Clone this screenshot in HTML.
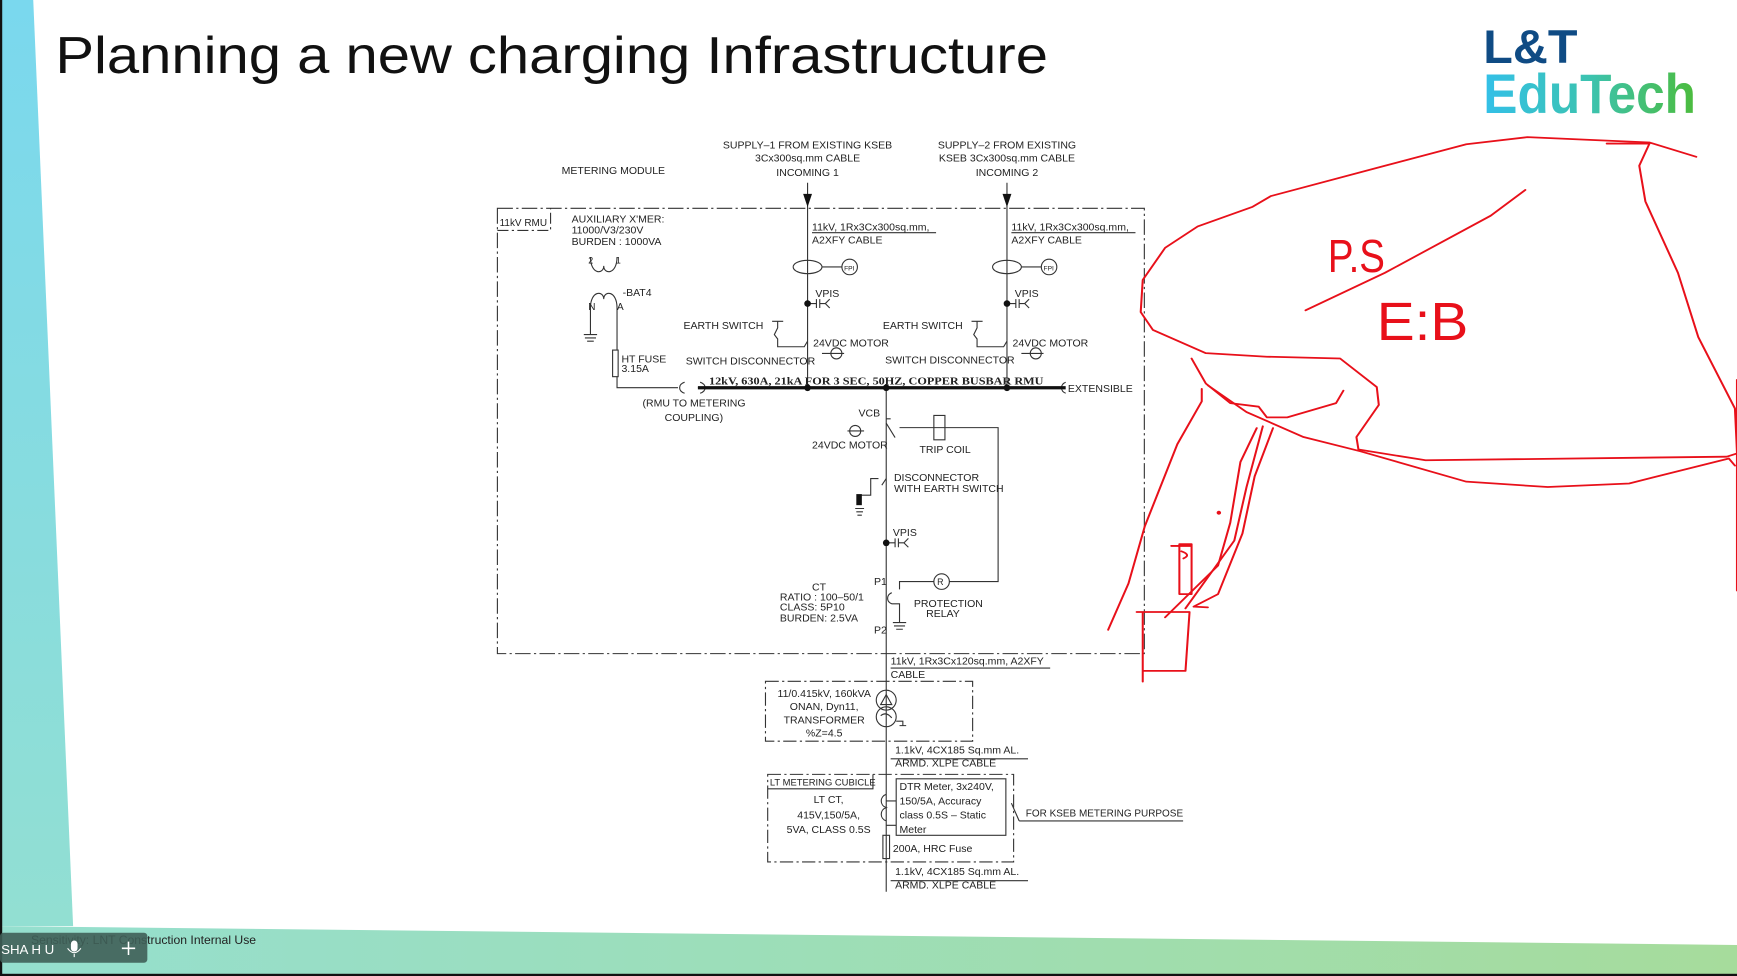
<!DOCTYPE html>
<html><head><meta charset="utf-8"><style>
html,body{margin:0;padding:0;background:#fff;width:1737px;height:976px;overflow:hidden}
svg{display:block}
.d{font-family:"Liberation Sans",sans-serif;font-size:9.5px;fill:#222}
</style></head><body>
<svg width="1737" height="976" viewBox="0 0 1568 881" preserveAspectRatio="none" xmlns="http://www.w3.org/2000/svg">
<defs>
<linearGradient id="lg" x1="0" y1="0" x2="0" y2="1"><stop offset="0" stop-color="#7ad8ee"/><stop offset="1" stop-color="#92dfd2"/></linearGradient>
<linearGradient id="bg" x1="0" y1="0" x2="1" y2="0"><stop offset="0" stop-color="#95dfcf"/><stop offset="1" stop-color="#a6dc9c"/></linearGradient>
<linearGradient id="eg" x1="0" y1="0" x2="1" y2="0"><stop offset="0" stop-color="#33c0e8"/><stop offset="0.5" stop-color="#3cc3b0"/><stop offset="1" stop-color="#4cbc3c"/></linearGradient>
</defs>
<rect width="1568" height="881" fill="#fff"/>
<polygon points="0,0 30,0 66,836 0,836" fill="url(#lg)"/>
<polygon points="0,836 1568,853 1568,881 0,881" fill="url(#bg)"/>
<rect x="0" y="0" width="2" height="881" fill="#111"/>
<rect x="0" y="879" width="1568" height="2" fill="#111"/>

<text x="50" y="66" font-family="Liberation Sans, sans-serif" font-size="47" fill="#111" textLength="896" lengthAdjust="spacingAndGlyphs">Planning a new charging Infrastructure</text>
<text x="1339" y="57" font-family="Liberation Sans, sans-serif" font-weight="bold" font-size="43" fill="#0f4b84" textLength="85" lengthAdjust="spacingAndGlyphs">L&amp;T</text>
<text x="1339" y="102" font-family="Liberation Sans, sans-serif" font-weight="bold" font-size="50" fill="url(#eg)" textLength="192" lengthAdjust="spacingAndGlyphs">EduTech</text>

<g stroke="#333" fill="none" stroke-width="1">
<rect x="449" y="188" width="584" height="402" stroke-dasharray="14,3,2,3"/>
<path d="M449,208 H497 V188" stroke-dasharray="10,3,2,3"/>
<path d="M729,165 V350 M909,165 V350" />
<path d="M800,350 V805"/>
<path d="M733,210 H845 M913,210 H1025"/>
<ellipse cx="729" cy="241" rx="13" ry="6"/><ellipse cx="909" cy="241" rx="13" ry="6"/>
<path d="M742,241 H760 M922,241 H940"/>
<circle cx="767" cy="241" r="7"/><circle cx="947" cy="241" r="7"/>
<path d="M729,274 H737 M737,270 V278 M740,270 V278 M740,274 H745 M749,270 L745,274 L749,278"/>
<path d="M909,274 H917 M917,270 V278 M920,270 V278 M920,274 H925 M929,270 L925,274 L929,278"/>
<path d="M800,490 H808 M808,486 V494 M811,486 V494 M811,490 H816 M820,486 L816,490 L820,494"/>
<path d="M697,290 H707 M702,290 V296 L699,302 L702,306 V313 H726 L729,308"/>
<path d="M877,290 H887 M882,290 V296 L879,302 L882,306 V313 H906 L909,308"/>
<path d="M742,319 H762 M922,319 H942"/>
<circle cx="755" cy="319" r="5"/><circle cx="935" cy="319" r="5"/>
<path d="M765,389 H780"/><circle cx="772" cy="389" r="5"/>
<path d="M800,378 H804 M800,382 L808,395"/>
<path d="M812,386 H901 V525 H857 M843,525 H812 V532"/>
<rect x="843" y="375" width="10" height="22"/>
<circle cx="850" cy="525" r="7"/>
<path d="M800,432 L796,438 M793,432 H786 V447 H776 V455 M772,459 H780 M773,462 H779 M774,465 H778"/>
<path d="M805,535 C800,537 800,543 805,545 H812 V562 M806,562 H818 M807,565 H817 M809,568 H815"/>
<path d="M557,278 V316 M557,340 V350 H612 M637,350 H630"/>
<path d="M533,278 V302 M527,302 H539 M528,305 H538 M530,308 H536"/>
<path d="M533,278 C533,262 545,262 545,270 C545,262 557,262 557,278"/>
<path d="M533,232 C533,248 545,248 545,240 C545,248 557,248 557,232"/>
<rect x="553" y="316" width="5" height="24"/>
<path d="M618,345 C612,347 612,353 618,355 M632,345 C638,347 638,353 632,355"/>
<path d="M962,345 C957,347 957,353 962,355"/>
<rect x="691" y="615" width="187" height="54" stroke-dasharray="12,3,2,3"/>
<circle cx="800" cy="632" r="9"/><circle cx="800" cy="647" r="9"/>
<path d="M795,636 L800,627 L805,636 Z M795,646 Q800,642 805,648 M809,651 H815 V655 M812,655 H818"/>
<path d="M804,685 H928 M804,795 H928 M804,603 H948 M920,741 H1068 M913,725 L920,741"/>
<rect x="693" y="699" width="222" height="79" stroke-dasharray="12,3,2,3"/>
<path d="M693,712 H788 V699"/>
<rect x="809" y="703" width="99" height="51"/>
<path d="M800,717 C794,719 794,727 800,729 C794,731 794,739 800,741 M800,723 H809 M800,745 H809"/>
<rect x="797" y="754" width="6" height="21"/>
</g>
<path d="M630,350 H962" stroke="#111" stroke-width="3"/>
<g fill="#111">
<polygon points="725,175 733,175 729,187"/><polygon points="905,175 913,175 909,187"/>
<circle cx="729" cy="274" r="3"/><circle cx="909" cy="274" r="3"/><circle cx="800" cy="490" r="3"/>
<circle cx="729" cy="350" r="3"/><circle cx="800" cy="350" r="3"/><circle cx="909" cy="350" r="3"/>
<rect x="773" y="446" width="5" height="10"/>
</g>
<g class="d">
<text x="507" y="157">METERING MODULE</text>
<g text-anchor="middle"><text x="729" y="134">SUPPLY–1 FROM EXISTING KSEB</text><text x="729" y="146">3Cx300sq.mm CABLE</text><text x="729" y="159">INCOMING 1</text>
<text x="909" y="134">SUPPLY–2 FROM EXISTING</text><text x="909" y="146">KSEB 3Cx300sq.mm CABLE</text><text x="909" y="159">INCOMING 2</text></g>
<text x="451" y="204" font-size="9">11kV RMU</text>
<text x="516" y="201">AUXILIARY X'MER:</text><text x="516" y="211">11000/V3/230V</text><text x="516" y="221">BURDEN : 1000VA</text>
<text x="531" y="238" font-size="8">2</text><text x="556" y="238" font-size="8">1</text>
<text x="562" y="267">-BAT4</text><text x="531" y="280" font-size="9">N</text><text x="557" y="280" font-size="9">A</text>
<text x="561" y="327">HT FUSE</text><text x="561" y="336">3.15A</text>
<text x="733" y="208">11kV, 1Rx3Cx300sq.mm,</text><text x="733" y="220">A2XFY CABLE</text>
<text x="913" y="208">11kV, 1Rx3Cx300sq.mm,</text><text x="913" y="220">A2XFY CABLE</text>
<text x="762" y="244" font-size="6">FPI</text><text x="942" y="244" font-size="6">FPI</text>
<text x="736" y="268">VPIS</text><text x="916" y="268">VPIS</text>
<text x="617" y="297">EARTH SWITCH</text><text x="797" y="297">EARTH SWITCH</text>
<text x="734" y="313">24VDC MOTOR</text><text x="914" y="313">24VDC MOTOR</text>
<text x="619" y="329">SWITCH DISCONNECTOR</text><text x="799" y="328">SWITCH DISCONNECTOR</text>
<text x="640" y="347" font-family="Liberation Serif, serif" font-weight="bold" textLength="302" lengthAdjust="spacingAndGlyphs">12kV, 630A, 21kA FOR  3 SEC, 50HZ, COPPER BUSBAR RMU</text>
<text x="964" y="354">EXTENSIBLE</text>
<text x="580" y="367">(RMU TO METERING</text><text x="600" y="380">COUPLING)</text>
<text x="775" y="376">VCB</text><text x="733" y="405">24VDC MOTOR</text><text x="830" y="409">TRIP COIL</text>
<text x="807" y="434">DISCONNECTOR</text><text x="807" y="444">WITH EARTH SWITCH</text>
<text x="806" y="484">VPIS</text>
<text x="789" y="528">P1</text><text x="789" y="572">P2</text>
<text x="846" y="528" font-size="8">R</text>
<text x="825" y="548">PROTECTION</text><text x="836" y="557">RELAY</text>
<text x="733" y="533">CT</text><text x="704" y="542">RATIO : 100–50/1</text><text x="704" y="551">CLASS: 5P10</text><text x="704" y="561">BURDEN: 2.5VA</text>
<text x="804" y="600">11kV, 1Rx3Cx120sq.mm, A2XFY</text><text x="804" y="612">CABLE</text>
<g text-anchor="middle"><text x="744" y="629">11/0.415kV, 160kVA</text><text x="744" y="641">ONAN, Dyn11,</text><text x="744" y="653">TRANSFORMER</text><text x="744" y="665">%Z=4.5</text>
<text x="748" y="725">LT CT,</text><text x="748" y="739">415V,150/5A,</text><text x="748" y="752">5VA, CLASS 0.5S</text></g>
<text x="808" y="680">1.1kV, 4CX185 Sq.mm AL.</text><text x="808" y="692">ARMD. XLPE CABLE</text>
<text x="695" y="709" font-size="8.5">LT METERING CUBICLE</text>
<text x="812" y="713">DTR Meter, 3x240V,</text><text x="812" y="726">150/5A, Accuracy</text><text x="812" y="739">class 0.5S – Static</text><text x="812" y="752">Meter</text>
<text x="926" y="737" textLength="142" lengthAdjust="spacingAndGlyphs">FOR KSEB METERING PURPOSE</text>
<text x="806" y="769">200A, HRC Fuse</text>
<text x="808" y="790">1.1kV, 4CX185 Sq.mm AL.</text><text x="808" y="802">ARMD. XLPE CABLE</text>
</g>

<g transform="scale(0.90271) translate(1100,130) scale(0.407,0.357)" stroke="#e8101a" stroke-width="5" fill="none" stroke-linejoin="round" stroke-linecap="round">
<path d="M1465,75 L1350,35 L1050,20 L900,40 L700,100 L420,185 L375,215 L240,270 L160,330 L105,420 L100,510 L130,560 L260,625 L410,635 L590,640 L680,720 L685,770 L630,860 L635,895 L800,925 L1540,915 L1568,905"/>
<path d="M1245,38 L1350,38 L1325,100 L1340,200 L1420,400 L1470,580 L1560,780 L1565,900"/>
<path d="M225,640 L260,710 L320,765 L390,775 L410,805 L460,805 L580,765 L598,730"/>
<path d="M265,715 L360,790 L500,860 L640,900 L900,985 L1100,1000 L1300,990 L1545,920 L1560,940"/>
<path d="M250,725 L250,760 L190,880 L110,1110 L70,1270 L20,1400"/>
<path d="M505,505 L700,400 L960,240 L1045,168"/>
<path d="M385,835 L345,930 L320,1100 L290,1220 L160,1365"/>
<path d="M400,830 L360,1000 L330,1150 L210,1340"/>
<path d="M425,835 L380,970 L350,1130 L290,1300 L230,1335 L265,1337"/>
<path d="M90,1350 L220,1350 L210,1515 L105,1515 L105,1545 M105,1350 L105,1515"/>
<path d="M195,1300 L195,1160 L225,1160 L225,1300 Z M175,1165 L225,1165 M200,1180 Q225,1190 205,1200"/>
<path d="M1565,700 L1565,1290"/>
<circle cx="292" cy="1072" r="3" fill="#e8101a"/>
<text x="560" y="398" font-family="Liberation Sans, sans-serif" font-size="130" fill="#e8101a" stroke="none" textLength="140" lengthAdjust="spacingAndGlyphs">P.S</text>
<text x="680" y="588" font-family="Liberation Sans, sans-serif" font-size="150" fill="#e8101a" stroke="none" textLength="225" lengthAdjust="spacingAndGlyphs">E:B</text>
</g>

<text x="28" y="852" font-family="Liberation Sans, sans-serif" font-size="11" fill="#222">Sensitivity: LNT Construction Internal Use</text>
<rect x="0" y="842" width="133" height="27" rx="3" fill="#3f5f58" opacity="0.9"/>
<text x="1" y="861" font-family="Liberation Sans, sans-serif" font-size="12" fill="#fff">SHA H U</text>
<rect x="64" y="849" width="6" height="10" rx="3" fill="#fff"/>
<path d="M61,856 Q67,864 73,856 M67,861 V864" stroke="#fff" fill="none"/>
<path d="M116,850 V862 M110,856 H122" stroke="#fff" stroke-width="1.4"/>
</svg>
</body></html>
